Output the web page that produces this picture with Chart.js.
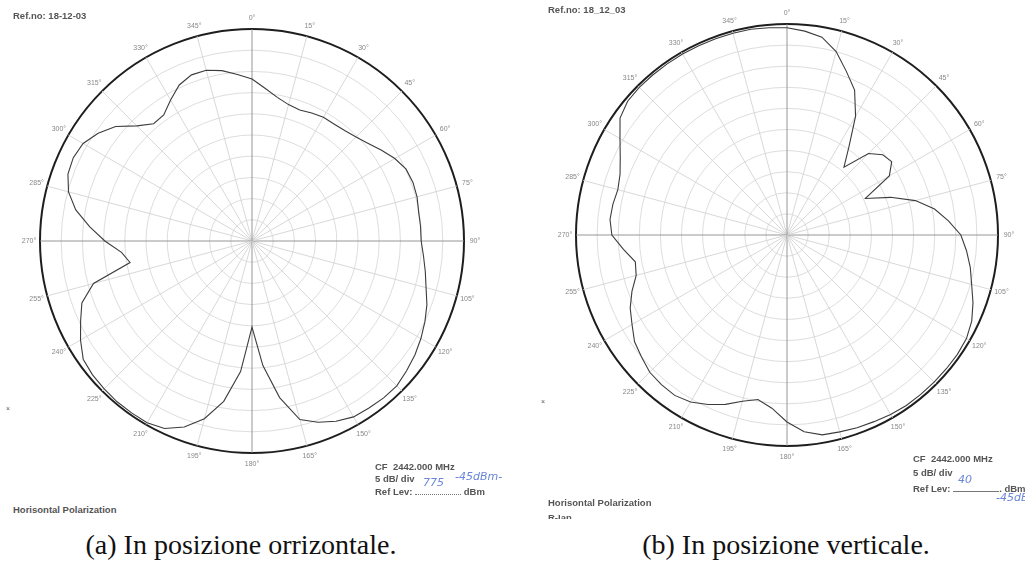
<!DOCTYPE html>
<html>
<head>
<meta charset="utf-8">
<script src="https://cdn.jsdelivr.net/npm/chart.js@4/dist/chart.umd.min.js"></script>
<style>
    body { margin: 0; width: 1025px; height: 565px; background: #fff; position: relative; overflow: hidden; font-family: "Liberation Sans", Arial, sans-serif; }
    canvas { position: absolute; top: 0; }
    #leftChart { left: 0; }
    #rightChart { left: 535px; }
    .t { position: absolute; color: #555; font-size: 9.5px; font-weight: bold; white-space: nowrap; line-height: 1; }
    .hand { position: absolute; color: #6a86d8; font-family: "DejaVu Sans", sans-serif; font-style: italic; font-size: 11px; white-space: nowrap; line-height: 1; }
    .cap { position: absolute; font-family: "Liberation Serif", serif; font-size: 28px; color: #111; white-space: nowrap; line-height: 1; transform: translateX(-50%); }
    .blank { display: inline-block; width: 46px; border-bottom: 1px solid #777; height: 8px; vertical-align: baseline; }
</style>
</head>
<body>
<canvas id="leftChart" width="504" height="482"></canvas>
<canvas id="rightChart" width="490" height="482"></canvas>

<div class="t" style="left:13px; top:11px;">Ref.no: 18-12-03</div>
<div class="t" style="left:375px; top:462px;">CF&nbsp; 2442.000 MHz</div>
<div class="t" style="left:375px; top:474px;">5 dB/ div</div>
<div class="t" style="left:375px; top:486px;">Ref Lev: <span class="blank" style="border-bottom:1px dotted #777"></span> dBm</div>
<div class="hand" style="left:423px; top:477px;">775</div>
<div class="hand" style="left:455px; top:471px;">-45dBm-</div>
<div class="t" style="left:13px; top:505px;">Horisontal Polarization</div>
<div class="t" style="left:6px; top:405px; font-weight:normal; font-size:7px;">×</div>

<div class="t" style="left:548px; top:5px;">Ref.no: 18_12_03</div>
<div class="t" style="left:913px; top:454px;">CF&nbsp; 2442.000 MHz</div>
<div class="t" style="left:913px; top:468px;">5 dB/ div</div>
<div class="t" style="left:913px; top:483px;">Ref Lev: <span class="blank"></span>. dBm</div>
<div class="hand" style="left:958px; top:474px;">40</div>
<div class="hand" style="left:996px; top:492px;">-45dBm</div>
<div class="t" style="left:548px; top:498px;">Horisontal Polarization</div>
<div class="t" style="left:548px; top:513px; height:6px; overflow:hidden;">R-Ian</div>
<div class="t" style="left:541px; top:398px; font-weight:normal; font-size:7px;">×</div>

<div class="cap" style="left:241px; top:531px;">(a) In posizione orrizontale.</div>
<div class="cap" style="left:786px; top:531px;">(b) In posizione verticale.</div>

<script>
// angle of each sample, degrees clockwise from top
const angles = [0, 5, 10, 15, 20, 25, 30, 35, 40, 45, 50, 55, 60, 65, 70, 75, 80, 85,
    90, 95, 100, 105, 110, 115, 120, 125, 130, 135, 140, 145, 150, 155, 160, 165, 170, 175,
    180, 185, 190, 195, 200, 205, 210, 215, 220, 225, 230, 235, 240, 245, 250, 255, 260, 265,
    270, 275, 280, 285, 290, 295, 300, 305, 310, 315, 320, 325, 330, 335, 340, 345, 350, 355];

// labels printed round the rim (every 15 deg)
const angleTicks = ["0°", "15°", "30°", "45°", "60°", "75°", "90°", "105°", "120°", "135°", "150°", "165°",
    "180°", "195°", "210°", "225°", "240°", "255°", "270°", "285°", "300°", "315°", "330°", "345°"];

// level in dB relative to the outer ring, 5 dB/div, 10 div
const levelMin = -50;
const levelMax = 0;
const levelStep = 5;

// (a) horizontal position
const horizontal = [-11.8, -13.9, -15.6, -16.7, -17.1, -16.7, -16.3, -16.3, -16.0, -15.3, -14.2, -12.7,
    -11.1, -9.9, -9.6, -9.7, -10.1, -10.1, -10.1, -9.4, -8.5, -7.5, -6.1, -5.0,
    -4.0, -3.1, -2.4, -1.7, -1.7, -1.9, -2.1, -3.1, -4.5, -6.4, -12.5, -20.5,
    -29.7, -19.1, -11.6, -6.6, -3.3, -1.2, -0.5, -0.5, -0.5, -0.7, -0.9, -1.4,
    -3.3, -5.4, -7.3, -11.3, -20.8, -19.1, -15.3, -11.6, -7.8, -5.2, -3.8, -3.5,
    -4.0, -5.7, -8.0, -11.6, -13.9, -13.7, -11.6, -9.4, -8.3, -8.3, -9.2, -10.6];

// (b) vertical position
const vertical = [-0.9, -1.5, -2.4, -5.0, -8.8, -12.1, -17.5, -24.4, -29.0, -22.7, -20.4, -19.7,
    -22.0, -29.5, -23.9, -18.5, -14.5, -11.6, -8.8, -7.3, -5.9, -4.7, -3.1, -1.7,
    -0.9, -0.7, -0.7, -0.7, -0.7, -0.7, -0.9, -1.2, -1.4, -1.7, -1.9, -3.2,
    -5.7, -8.8, -10.4, -9.2, -7.3, -5.7, -4.3, -3.6, -3.7, -4.0, -5.0, -5.9,
    -7.6, -9.0, -10.9, -13.0, -13.5, -11.1, -8.5, -7.9, -8.1, -8.5, -7.9, -6.4,
    -4.3, -1.7, -0.7, -0.5, -0.5, -0.5, -0.5, -0.5, -0.5, -0.5, -0.5, -0.7];

const rimLabels = {
    id: "rimLabels",
    afterDraw(chart) {
        const scale = chart.scales.r;
        const ctx = chart.ctx;
        ctx.save();
        ctx.fillStyle = "#888";
        ctx.font = "7px 'Liberation Sans', Arial, sans-serif";
        ctx.textAlign = "center";
        ctx.textBaseline = "middle";
        angles.forEach((a, i) => {
            if (a % 15 !== 0) return;
            const p = scale.getPointPosition(i, scale.drawingArea + 11);
            ctx.fillText(angleTicks[a / 15], p.x, p.y);
        });
        ctx.restore();
    }
};

function makePolar(id, values, padding) {
    return new Chart(document.getElementById(id), {
        type: "radar",
        data: {
            labels: angles,
            datasets: [{
                data: values,
                borderColor: "#3c3c3c",
                borderWidth: 1.1,
                pointRadius: 0,
                fill: false,
                tension: 0
            }]
        },
        options: {
            responsive: false,
            animation: false,
            layout: { padding },
            plugins: { legend: { display: false }, tooltip: { enabled: false } },
            scales: {
                r: {
                    min: levelMin,
                    max: levelMax,
                    ticks: { stepSize: levelStep, display: false },
                    pointLabels: { display: false },
                    grid: {
                        circular: true,
                        color: c => c.index === 10 ? "#1e1e1e" : "#d4d4d4",
                        lineWidth: c => c.index === 10 ? 2 : 0.8
                    },
                    angleLines: {
                        color: c => c.index % 18 === 0 ? "#8a8a8a" : "#d4d4d4",
                        lineWidth: c => c.index % 3 === 0 ? 0.9 : 0
                    }
                }
            }
        },
        plugins: [rimLabels]
    });
}

makePolar("leftChart", horizontal, { left: 40, right: 40, top: 29, bottom: 29 });
makePolar("rightChart", vertical, { left: 41, right: 27, top: 24, bottom: 36 });
</script>
</body>
</html>
